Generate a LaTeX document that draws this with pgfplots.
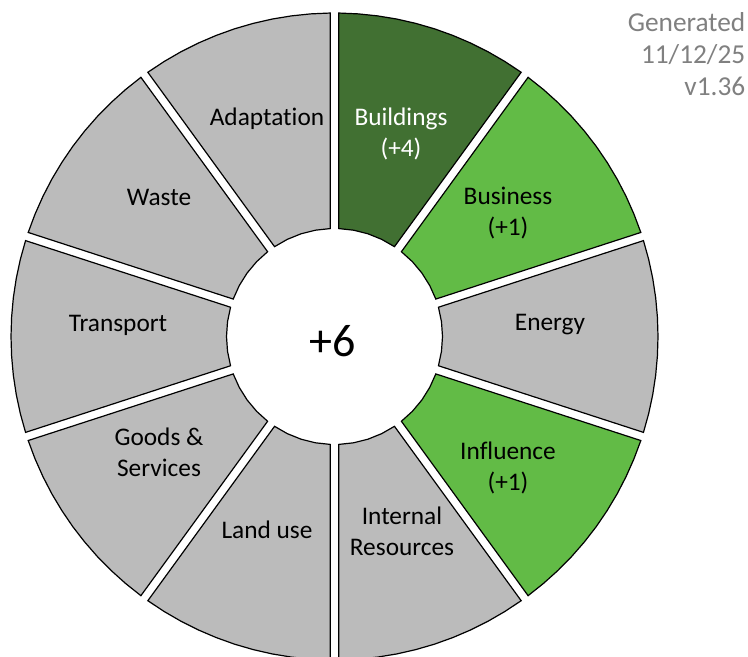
\documentclass[border=0pt]{standalone}
\usepackage{fontspec}
\setmainfont{Carlito}[Ligatures={NoCommon}]
\usepackage{pgfplots}
\usepackage{pgfplotstable}
\pgfplotsset{compat=1.18}
\definecolor{segGray}{RGB}{187,187,187}
\definecolor{darkG}{RGB}{65,112,50}
\definecolor{lightG}{RGB}{98,187,70}
\definecolor{noteGray}{RGB}{128,128,128}
\pgfplotsset{seg/.style={data cs=polar, draw=black, line width=0.9pt, mark=none, line join=miter}}
% one 36-degree segment of the donut (angle in degrees, radius in px); outer radius 323.5, inner radius 108
\pgfplotstableread{
a r
0.76 323.5
4.21 323.5
7.66 323.5
11.10 323.5
14.55 323.5
18.00 323.5
21.45 323.5
24.90 323.5
28.34 323.5
31.79 323.5
35.24 323.5
33.72 108
25.86 108
18.00 108
10.14 108
2.28 108
}\segshape
% scores: Buildings +4, Business +1, Energy 0, Influence +1, Internal Resources 0,
% Land use 0, Goods & Services 0, Transport 0, Waste 0, Adaptation 0; total +6
\begin{document}
\begin{tikzpicture}
\begin{axis}[x=0.75pt,y=0.75pt,
  xmin=-334.5,xmax=413.5,ymin=-319.5,ymax=336.5,
  hide axis, enlargelimits=false, clip=true]
\path (rel axis cs:0,0) coordinate (bl) (rel axis cs:1,1) coordinate (tr);
% Buildings (+4)
\addplot[seg, fill=darkG] table[x expr=\thisrow{a}+54, y=r]{\segshape} -- cycle;
% Business (+1)
\addplot[seg, fill=lightG] table[x expr=\thisrow{a}+18, y=r]{\segshape} -- cycle;
% Energy (0)
\addplot[seg, fill=segGray] table[x expr=\thisrow{a}-18, y=r]{\segshape} -- cycle;
% Influence (+1)
\addplot[seg, fill=lightG] table[x expr=\thisrow{a}-54, y=r]{\segshape} -- cycle;
% Internal Resources (0)
\addplot[seg, fill=segGray] table[x expr=\thisrow{a}-90, y=r]{\segshape} -- cycle;
% Land use (0)
\addplot[seg, fill=segGray] table[x expr=\thisrow{a}-126, y=r]{\segshape} -- cycle;
% Goods & Services (0)
\addplot[seg, fill=segGray] table[x expr=\thisrow{a}-162, y=r]{\segshape} -- cycle;
% Transport (0)
\addplot[seg, fill=segGray] table[x expr=\thisrow{a}+162, y=r]{\segshape} -- cycle;
% Waste (0)
\addplot[seg, fill=segGray] table[x expr=\thisrow{a}+126, y=r]{\segshape} -- cycle;
% Adaptation (0)
\addplot[seg, fill=segGray] table[x expr=\thisrow{a}+90, y=r]{\segshape} -- cycle;

\begin{scope}[every node/.style={align=center, inner sep=0pt, font=\fontsize{19}{23.25}\selectfont}]
\node at (axis cs:-67.5,217.5) {Adaptation};
\node[text=white] at (axis cs:66.5,202.5) {Buildings\\(+4)};
\node at (axis cs:173.5,123.5) {Business\\(+1)};
\node at (axis cs:215.5,11.5) {Energy};
\node at (axis cs:173.5,-131.5) {Influence\\(+1)};
\node at (axis cs:67.5,-194.5) {Internal\\Resources};
\node at (axis cs:-67.5,-193.5) {Land use};
\node at (axis cs:-175.5,-115.5) {Goods \&\\Services};
\node at (axis cs:-216.5,11.5) {Transport};
\node at (axis cs:-175.5,139.5) {Waste};
\end{scope}
\node[inner sep=0pt, font=\fontsize{34.5}{40}\selectfont] at (axis cs:-1.5,-4.5) {+6};
\begin{scope}[every node/.style={anchor=base east, inner sep=0pt, text=noteGray, font=\fontsize{20.5}{24}\selectfont}]
\node at (axis cs:411,305) {Generated};
\node at (axis cs:411,273) {11/12/25};
\node at (axis cs:411,241) {v1.36};
\end{scope}
\end{axis}
\pgfresetboundingbox
\useasboundingbox (bl) rectangle (tr);
\end{tikzpicture}
\end{document}
